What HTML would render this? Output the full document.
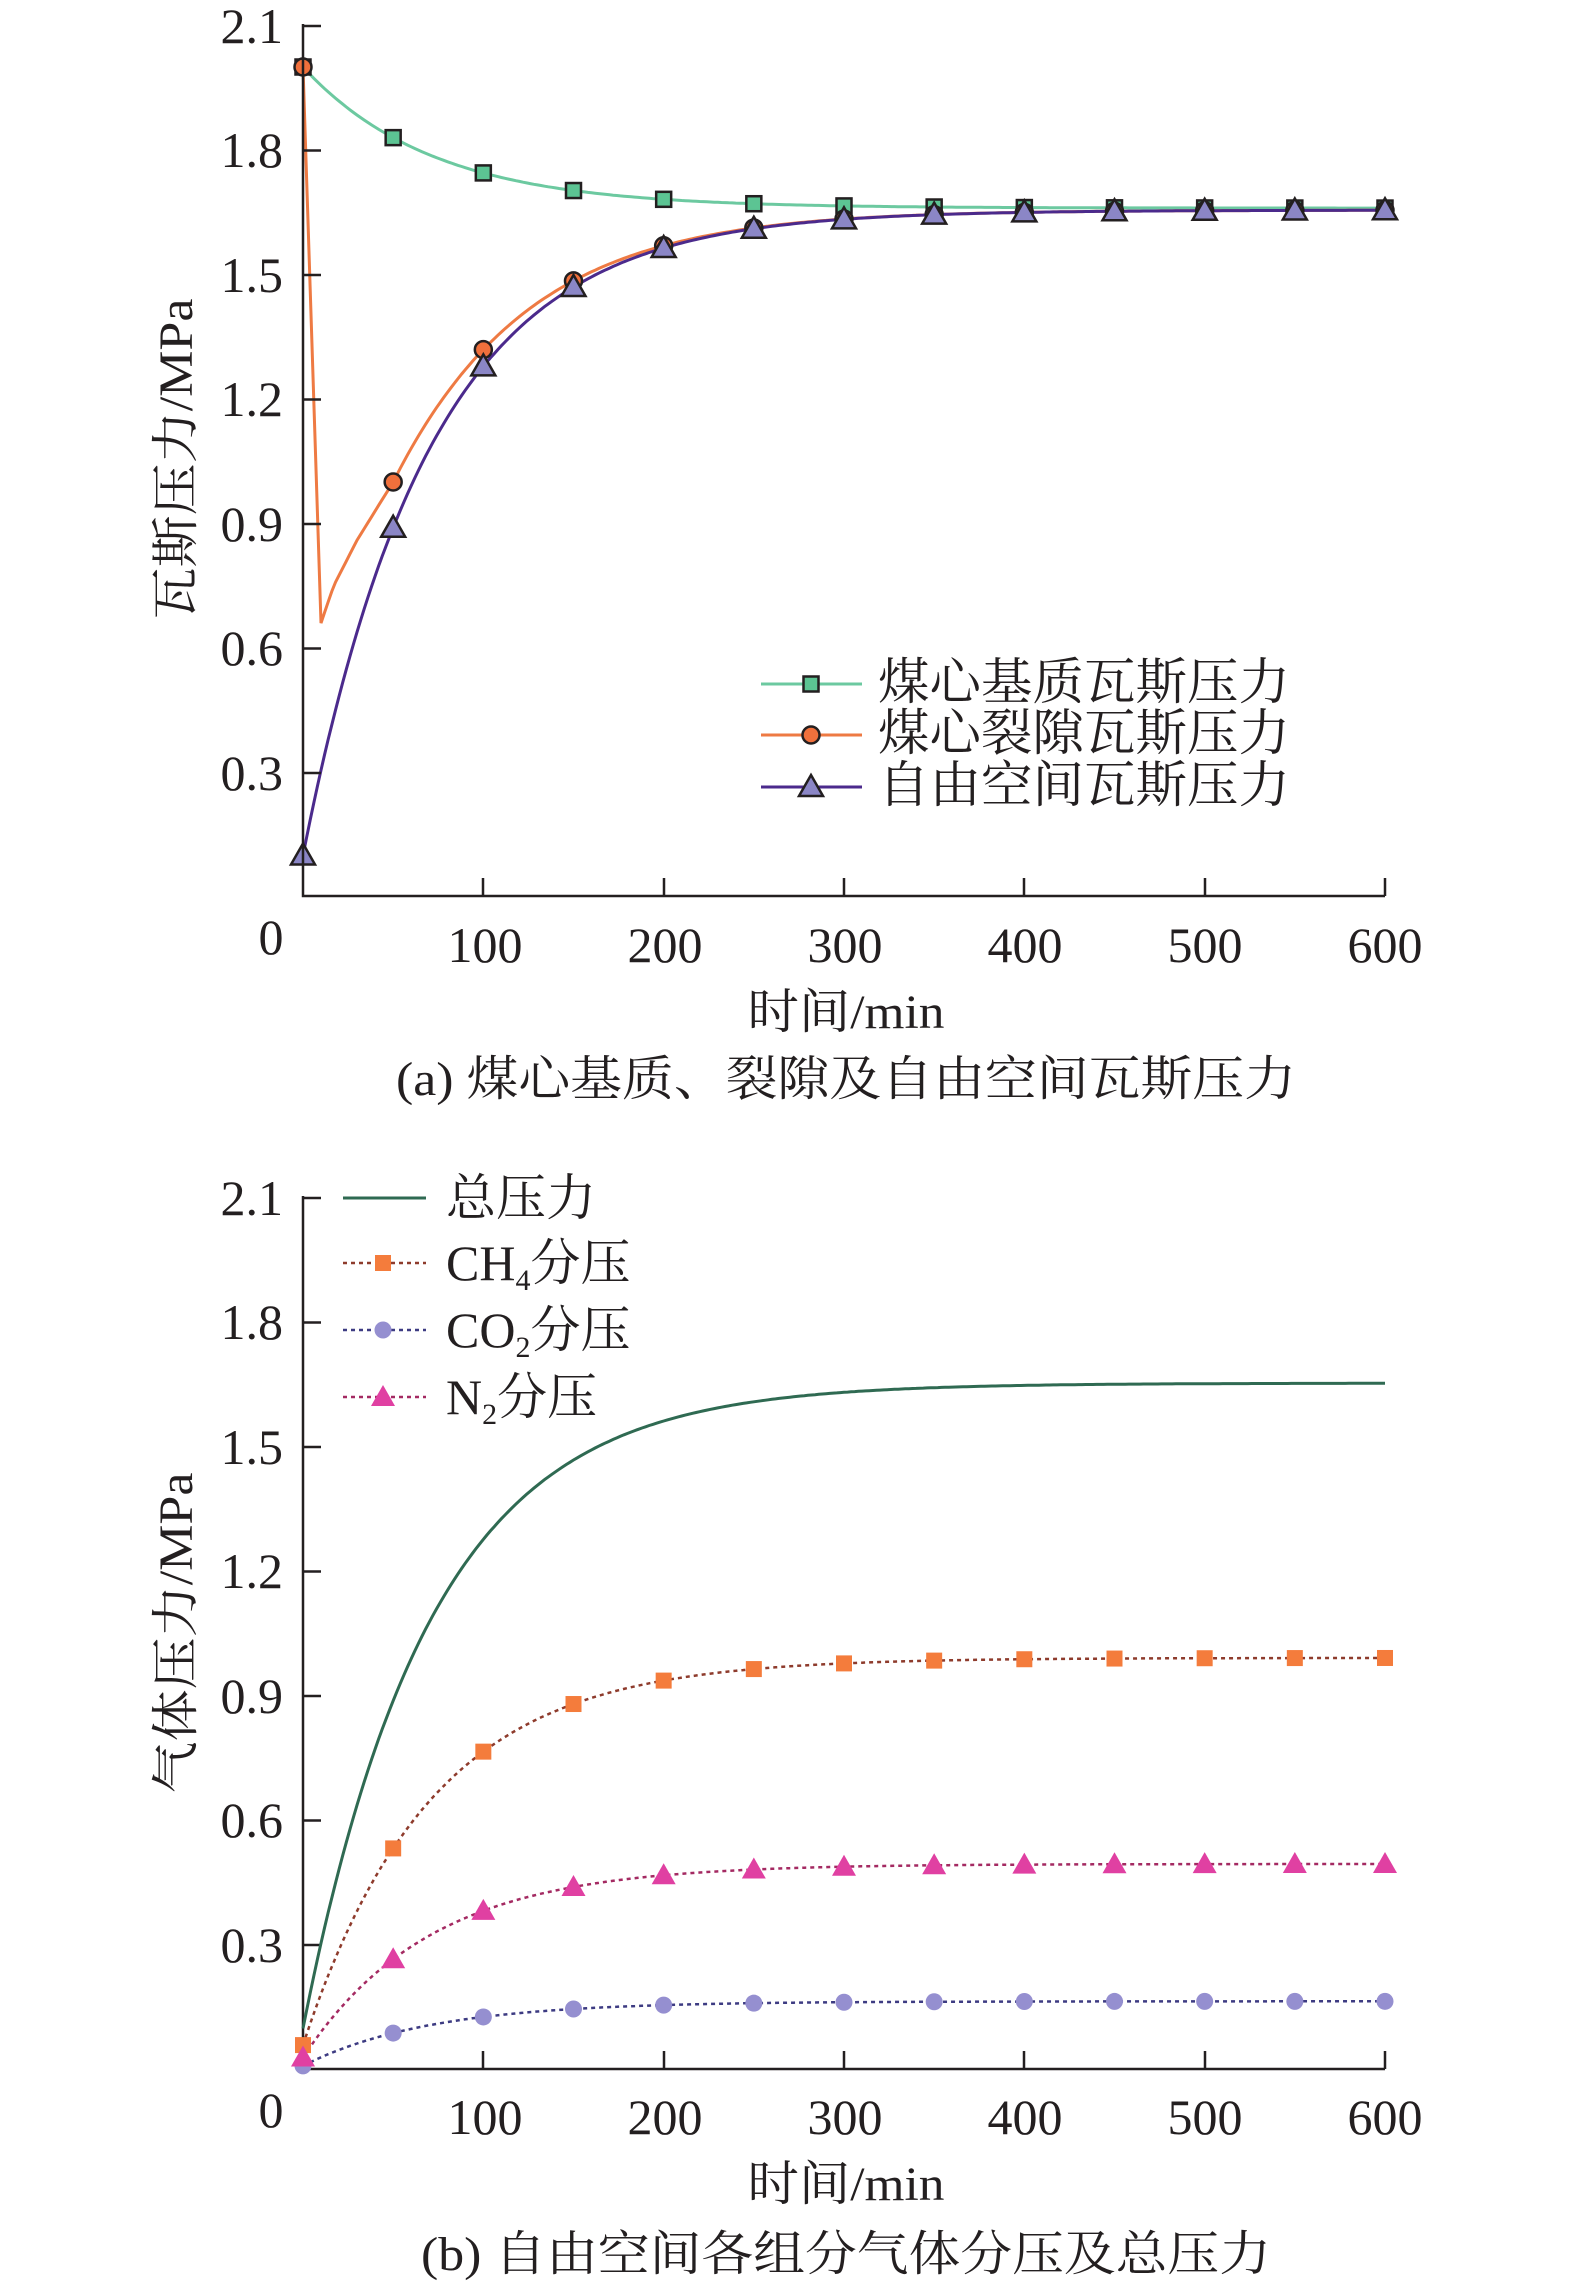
<!DOCTYPE html>
<html><head><meta charset="utf-8"><style>
html,body{margin:0;padding:0;background:#fff}
svg{display:block}
text{font-family:"Liberation Serif","Noto Serif CJK SC",serif;fill:#231f20}
</style></head><body>
<svg id="s" width="1575" height="2287" viewBox="0 0 1575 2287" xmlns="http://www.w3.org/2000/svg">
<g id="g1"></g>
<g stroke="#231f20" stroke-width="2.5" fill="none">
<path d="M303,24 V896 H1385"/>
<path d="M303,26 h18 M303,150.5 h18 M303,275 h18 M303,399.5 h18 M303,524 h18 M303,648.5 h18 M303,773 h18"/>
<path d="M483,896 v-18 M664,896 v-18 M844,896 v-18 M1024,896 v-18 M1205,896 v-18 M1385,896 v-18"/>
<path d="M303,1196 V2069 H1385"/>
<path d="M303,1198 h18 M303,1322.5 h18 M303,1447 h18 M303,1571.5 h18 M303,1696 h18 M303,1820.5 h18 M303,1945 h18"/>
<path d="M483,2069 v-18 M664,2069 v-18 M844,2069 v-18 M1024,2069 v-18 M1205,2069 v-18 M1385,2069 v-18"/>
</g>
<g font-size="50" text-anchor="end">
<text x="283" y="43">2.1</text><text x="283" y="167">1.8</text><text x="283" y="292">1.5</text><text x="283" y="416">1.2</text><text x="283" y="541">0.9</text><text x="283" y="665">0.6</text><text x="283" y="790">0.3</text>
<text x="283" y="1215">2.1</text><text x="283" y="1339">1.8</text><text x="283" y="1464">1.5</text><text x="283" y="1588">1.2</text><text x="283" y="1713">0.9</text><text x="283" y="1837">0.6</text><text x="283" y="1962">0.3</text>
</g>
<g font-size="50" text-anchor="middle">
<text x="271" y="954">0</text><text x="485" y="962">100</text><text x="665" y="962">200</text><text x="845" y="962">300</text><text x="1025" y="962">400</text><text x="1205" y="962">500</text><text x="1385" y="962">600</text>
<text x="271" y="2127">0</text><text x="485" y="2134">100</text><text x="665" y="2134">200</text><text x="845" y="2134">300</text><text x="1025" y="2134">400</text><text x="1205" y="2134">500</text><text x="1385" y="2134">600</text>
<text x="846" y="1028" font-size="48" textLength="197" lengthAdjust="spacingAndGlyphs">时间/min</text>
<text x="846" y="1095" font-size="48" textLength="900" lengthAdjust="spacingAndGlyphs">(a) 煤心基质、裂隙及自由空间瓦斯压力</text>
<text x="846" y="2200" font-size="48" textLength="197" lengthAdjust="spacingAndGlyphs">时间/min</text>
<text x="846" y="2270" font-size="48" textLength="850" lengthAdjust="spacingAndGlyphs">(b) 自由空间各组分气体分压及总压力</text>
<text transform="translate(192,459) rotate(-90)" font-size="48" textLength="321" lengthAdjust="spacingAndGlyphs">瓦斯压力/MPa</text>
<text transform="translate(192,1633) rotate(-90)" font-size="48" textLength="321" lengthAdjust="spacingAndGlyphs">气体压力/MPa</text>
</g>
<g font-size="50">
<text x="878" y="699" textLength="412" lengthAdjust="spacingAndGlyphs">煤心基质瓦斯压力</text>
<text x="878" y="750" textLength="412" lengthAdjust="spacingAndGlyphs">煤心裂隙瓦斯压力</text>
<text x="878" y="802" textLength="412" lengthAdjust="spacingAndGlyphs">自由空间瓦斯压力</text>
<text x="446" y="1215">总压力</text>
<text x="446" y="1280">CH<tspan font-size="30" dy="10">4</tspan><tspan dy="-10">分压</tspan></text>
<text x="446" y="1347">CO<tspan font-size="30" dy="10">2</tspan><tspan dy="-10">分压</tspan></text>
<text x="446" y="1414">N<tspan font-size="30" dy="10">2</tspan><tspan dy="-10">分压</tspan></text>
</g>
<g id="g2"></g>
</svg>
<script>
var NS="http://www.w3.org/2000/svg";
function X(t){return 303+t*1082/600;}
function Y1(v){return 897-v*415;}
function Y2(v){return 2070-v*415;}
function el(p,tag,a){var e=document.createElementNS(NS,tag);for(var k in a)e.setAttribute(k,a[k]);p.appendChild(e);return e;}
var g1=document.getElementById('g1'),g2=document.getElementById('g2');
function free(t){return 1.655-1.555*Math.exp(-t/70.5);}
function mat(t){return 1.66+0.34*Math.exp(-t/72);}
function frac(t){
 if(t<=10) return 2.0-(1.34)*(t/10);
 if(t<50){var pts=[[10,0.66],[17,0.75],[30,0.86],[50,1.0]];for(var i=0;i<3;i++){if(t<=pts[i+1][0]){var a=pts[i],b=pts[i+1];return a[1]+(b[1]-a[1])*(t-a[0])/(b[0]-a[0]);}}}
 return free(t)+0.11*Math.exp(-(t-50)/50);
}
function path(p,f,Y,attrs){var d="";var ts=[];for(var t=0;t<=600;t+=2)ts.push(t);if(f===frac){ts.push(10);ts.sort(function(a,b){return a-b});}
 ts.forEach(function(t,i){d+=(i?"L":"M")+X(t).toFixed(1)+","+Y(f(t)).toFixed(1);});attrs.d=d;attrs.fill="none";return el(p,'path',attrs);}
function sq(p,x,y,s,fill,st){el(p,'rect',{x:x-s/2,y:y-s/2,width:s,height:s,fill:fill,stroke:st||'none','stroke-width':2.5});}
function ci(p,x,y,r,fill,st){el(p,'circle',{cx:x,cy:y,r:r,fill:fill,stroke:st||'none','stroke-width':2.5});}
function tri(p,x,y,s,fill,st){el(p,'path',{d:"M"+x+","+(y-s*0.6)+"L"+(x+s*0.6)+","+(y+s*0.45)+"L"+(x-s*0.6)+","+(y+s*0.45)+"Z",fill:fill,stroke:st||'none','stroke-width':2.5});}
path(g1,mat,Y1,{stroke:'#6cc9a0','stroke-width':3});
path(g1,frac,Y1,{stroke:'#ee7a43','stroke-width':3});
path(g1,free,Y1,{stroke:'#4b2a8c','stroke-width':3});
for(var t=0;t<=600;t+=50){
 sq(g1,X(t),Y1(mat(t)),15,'#5cc493','#231f20');
 ci(g1,X(t),Y1(frac(t)),8.5,'#f0703c','#231f20');
 tri(g1,X(t),Y1(free(t)),20,'#8b86c6','#231f20');
}
[[684,'#6cc9a0'],[735,'#ee7a43'],[787,'#4b2a8c']].forEach(function(r,i){
 el(g1,'line',{x1:761,x2:862,y1:r[0],y2:r[0],stroke:r[1],'stroke-width':3});
 var x=811;if(i==0)sq(g1,x,r[0],15,'#5cc493','#231f20');if(i==1)ci(g1,x,r[0],8.5,'#f0703c','#231f20');if(i==2)tri(g1,x,r[0],20,'#8b86c6','#231f20');
});
path(g2,free,Y2,{stroke:'#2f6a52','stroke-width':3});
path(g2,function(t){return 0.6*free(t)},Y2,{stroke:'#8e3b2c','stroke-width':2.5,'stroke-dasharray':'4,4'});
path(g2,function(t){return 0.1*free(t)},Y2,{stroke:'#3d3b82','stroke-width':2.5,'stroke-dasharray':'4,4'});
path(g2,function(t){return 0.3*free(t)},Y2,{stroke:'#a42a62','stroke-width':2.5,'stroke-dasharray':'4,4'});
for(var t=0;t<=600;t+=50){
 sq(g2,X(t),Y2(0.6*free(t)),16,'#f47c3c');
 ci(g2,X(t),Y2(0.1*free(t)),8.5,'#958fd0');
 tri(g2,X(t),Y2(0.3*free(t)),20,'#e040a2');
}
el(g2,'line',{x1:343,x2:426,y1:1198,y2:1198,stroke:'#2f6a52','stroke-width':3});
el(g2,'line',{x1:343,x2:426,y1:1263,y2:1263,stroke:'#8e3b2c','stroke-width':2.5,'stroke-dasharray':'4,4'});
el(g2,'line',{x1:343,x2:426,y1:1330,y2:1330,stroke:'#3d3b82','stroke-width':2.5,'stroke-dasharray':'4,4'});
el(g2,'line',{x1:343,x2:426,y1:1397,y2:1397,stroke:'#a42a62','stroke-width':2.5,'stroke-dasharray':'4,4'});
sq(g2,383,1263,16,'#f47c3c');ci(g2,383,1330,8.5,'#958fd0');tri(g2,383,1397,20,'#e040a2');
</script>
</body></html>
